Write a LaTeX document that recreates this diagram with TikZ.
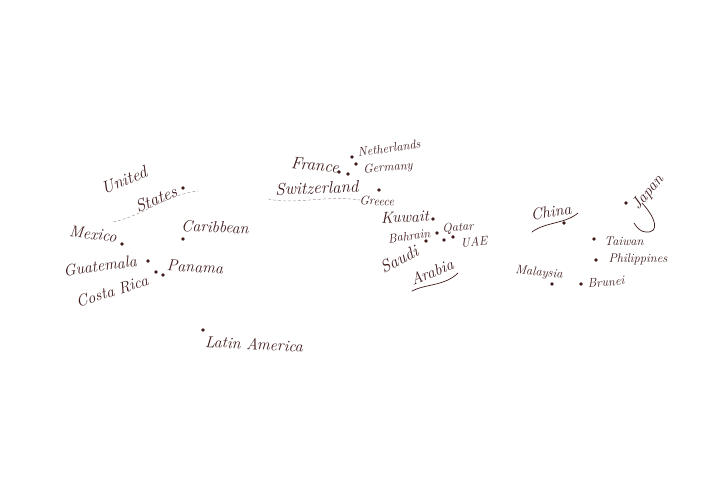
\documentclass[tikz,border=0pt]{standalone}
\usepackage{tikz}
\definecolor{inkbrown}{HTML}{3F1A1A}
\tikzset{
	spot/.style={circle, fill=inkbrown, inner sep=0pt, minimum size=3.6pt},
	bigplace/.style={text=inkbrown, inner sep=0pt, font=\itshape\fontsize{17}{17}\selectfont},
	midplace/.style={text=inkbrown, inner sep=0pt, font=\itshape\fontsize{16}{16}\selectfont},
	smallplace/.style={text=inkbrown, inner sep=0pt, font=\itshape\fontsize{12.5}{12.5}\selectfont},
	inkline/.style={draw=inkbrown, line width=0.7pt, line cap=round},
	faintline/.style={draw=inkbrown!45, line width=0.5pt, densely dashed},
}
\begin{document}
\begin{tikzpicture}[x=1pt, y=-1pt]
	\useasboundingbox (0,0) rectangle (714,482);

	% americas
	\node[bigplace, rotate=22] (united) at (124,180) {United};
	\node[bigplace, rotate=22] (states) at (156,199) {States};
	\node[spot] (statesdot) at (183,188) {};
	\node[midplace, rotate=-6] (mexico) at (93,234) {Mexico};
	\node[spot] (mexicodot) at (122,244) {};
	\node[midplace, rotate=-2] (caribbean) at (215,227) {Caribbean};
	\node[spot] (caribbeandot) at (183,239) {};
	\node[midplace, rotate=8] (guatemala) at (100,266) {Guatemala};
	\node[spot] (guatemaladot) at (148,261) {};
	\node[midplace, rotate=18] (costarica) at (112,291) {Costa Rica};
	\node[spot] (costaricadot) at (156,272) {};
	\node[midplace, rotate=-3] (panama) at (195,267) {Panama};
	\node[spot] (panamadot) at (163,275) {};
	\node[midplace, rotate=-3] (latin) at (254,344) {Latin America};
	\node[spot] (latindot) at (203,330) {};

	% europe
	\node[bigplace, rotate=-5] (france) at (315,165) {France};
	\node[spot] (francedot) at (339,172) {};
	\node[smallplace, rotate=8] (netherlands) at (389,148) {Netherlands};
	\node[spot] (netherlandsdot) at (352,157) {};
	\node[smallplace, rotate=5] (germany) at (388,168) {Germany};
	\node[spot] (germanydot) at (356,164) {};
	\node[spot] (switzerlanddot) at (348,174) {};
	\node[bigplace, rotate=2] (switzerland) at (317,188) {Switzerland};
	\node[smallplace, rotate=-3] (greece) at (377,201) {Greece};
	\node[spot] (greecedot) at (379,190) {};

	% middle east
	\node[midplace, rotate=2] (kuwait) at (405,217) {Kuwait};
	\node[spot] (kuwaitdot) at (433,219) {};
	\node[smallplace, rotate=8] (bahrain) at (409,236) {Bahrain};
	\node[spot] (bahraindot) at (426,241) {};
	\node[smallplace, rotate=4] (qatar) at (458,228) {Qatar};
	\node[spot] (qatardot) at (437,233) {};
	\node[spot] (saudidot) at (444,240) {};
	\node[smallplace, rotate=5] (uae) at (474,242) {UAE};
	\node[spot] (uaedot) at (453,237) {};
	\node[bigplace, rotate=28] (saudi) at (399,259) {Saudi};
	\node[midplace, rotate=22] (arabia) at (432,272) {Arabia};

	% asia
	\node[midplace, rotate=10] (china) at (551,212) {China};
	\node[spot] (chinadot) at (564,223) {};
	\node[midplace, rotate=50] (japan) at (648,193) {Japan};
	\node[spot] (japandot) at (626,203) {};
	\node[smallplace] (taiwan) at (624,241) {Taiwan};
	\node[spot] (taiwandot) at (594,239) {};
	\node[smallplace] (philippines) at (638,259) {Philippines};
	\node[spot] (philippinesdot) at (596,260) {};
	\node[smallplace, rotate=-5] (malaysia) at (539,273) {Malaysia};
	\node[spot] (malaysiadot) at (552,284) {};
	\node[smallplace, rotate=5] (brunei) at (606,282) {Brunei};
	\node[spot] (bruneidot) at (581,284) {};

	% strokes under the names
	\coordinate (statesa) at (113,222);
	\coordinate (statesb) at (198,191);
	\coordinate (swissa) at (268,199);
	\coordinate (swissb) at (360,200);
	\coordinate (arabiaa) at (412,291);
	\coordinate (arabiab) at (458,273);
	\coordinate (chinaa) at (532,232);
	\coordinate (chinab) at (578,213);
	\coordinate (japana) at (642,203);
	\coordinate (japanb) at (634,223);
	\draw[faintline] (statesa) .. controls (145,215) and (165,195) .. (statesb);
	\draw[faintline] (swissa) .. controls (295,205) and (325,195) .. (swissb);
	\draw[inkline] (arabiaa) .. controls (425,284) and (445,286) .. (arabiab);
	\draw[inkline] (chinaa) .. controls (545,222) and (565,224) .. (chinab);
	\draw[inkline] (japana) .. controls (656,218) and (660,233) .. (646,232) .. controls (641,232) and (637,228) .. (japanb);
\end{tikzpicture}
\end{document}
